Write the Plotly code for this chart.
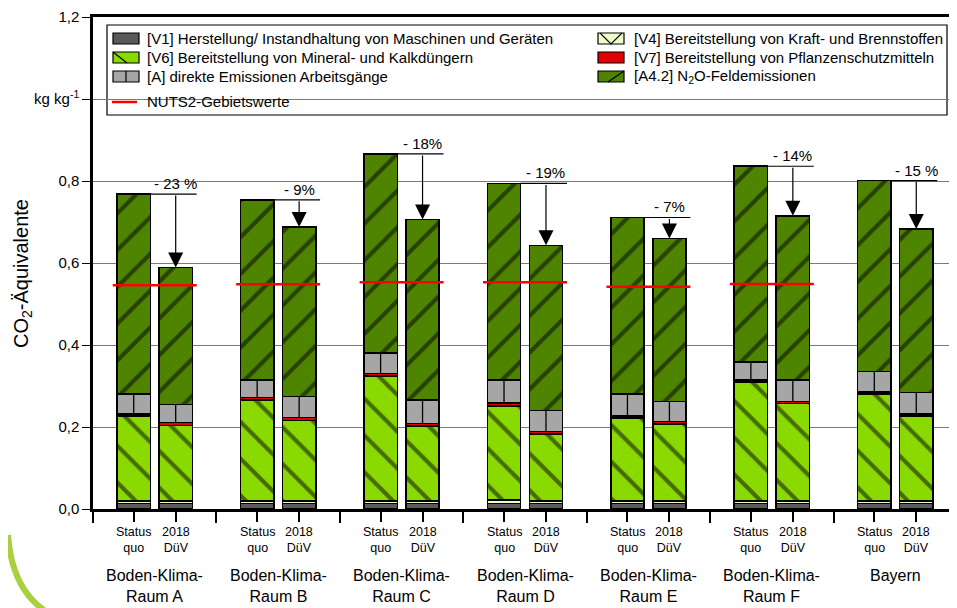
import plotly.graph_objects as go

groups = ["Boden-Klima-<br>Raum A", "Boden-Klima-<br>Raum B", "Boden-Klima-<br>Raum C",
          "Boden-Klima-<br>Raum D", "Boden-Klima-<br>Raum E", "Boden-Klima-<br>Raum F", "Bayern"]
scenarios = ["Status<br>quo", "2018<br>DüV"]

# components per scenario (kg CO2-eq per kg)
v1_sq = [0.013, 0.013, 0.013, 0.013, 0.013, 0.013, 0.013]
v1_dv = [0.013, 0.013, 0.013, 0.013, 0.013, 0.013, 0.013]
v4_sq = [0.006, 0.006, 0.006, 0.009, 0.006, 0.006, 0.006]
v4_dv = [0.006, 0.006, 0.006, 0.006, 0.006, 0.006, 0.006]
v6_sq = [0.208, 0.247, 0.306, 0.229, 0.203, 0.291, 0.261]
v6_dv = [0.185, 0.197, 0.184, 0.164, 0.188, 0.238, 0.208]
v7_sq = [0.005, 0.006, 0.006, 0.007, 0.005, 0.005, 0.005]
v7_dv = [0.007, 0.007, 0.006, 0.006, 0.006, 0.005, 0.005]
a_sq = [0.048, 0.043, 0.050, 0.057, 0.053, 0.044, 0.050]
a_dv = [0.044, 0.051, 0.057, 0.051, 0.049, 0.053, 0.052]
n2o_sq = [0.488, 0.439, 0.485, 0.479, 0.431, 0.477, 0.466]
n2o_dv = [0.334, 0.414, 0.440, 0.403, 0.398, 0.400, 0.399]
nuts2 = [0.546, 0.548, 0.553, 0.553, 0.542, 0.549, None]
reduction_labels = ["- 23 %", "- 9%", "- 18%", "- 19%", "- 7%", "- 14%", "- 15 %"]

y_ticks = [0.0, 0.2, 0.4, 0.6, 0.8, 1.0, 1.2]
y_ticktext = ["0,0", "0,2", "0,4", "0,6", "0,8", "kg kg<sup>-1</sup>", "1,2"]

names = ["[V1] Herstellung/ Instandhaltung von Maschinen und Geräten",
         "[V4] Bereitstellung von Kraft- und Brennstoffen",
         "[V6] Bereitstellung von Mineral- und Kalkdüngern",
         "[V7] Bereitstellung von Pflanzenschutzmitteln",
         "[A] direkte Emissionen Arbeitsgänge",
         "[A4.2] N<sub>2</sub>O-Feldemissionen"]
nuts2_name = "NUTS2-Gebietswerte"
colors = ["#5a5a5a", "#f0fcc8", "#8ad900", "#e00000", "#a6a6a6", "#4e8400"]
patterns = ["", "", "\\", "", "", "/"]

FONT = "Liberation Sans, Arial, sans-serif"
OFF = 0.17
W = 0.27
n = len(groups)
x_sq = [g - OFF for g in range(n)]
x_dv = [g + OFF for g in range(n)]

# page-pixel -> paper helpers (plot area spans 93..957 x 17..509 on the page)
PL, PR, PT, PB = 93.0, 957.0, 17.0, 509.0


def px(xp):
    return (xp - PL) / (PR - PL)


def py(yp):
    return (PB - yp) / (PB - PT)


def inter(a, b):
    return [v for pair in zip(a, b) for v in pair]


xs = inter(x_sq, x_dv)
series = [inter(v1_sq, v1_dv), inter(v4_sq, v4_dv), inter(v6_sq, v6_dv),
          inter(v7_sq, v7_dv), inter(a_sq, a_dv), inter(n2o_sq, n2o_dv)]

fig = go.Figure()
for name, vals, color, shape in zip(names, series, colors, patterns):
    marker = dict(color=color, line=dict(color="black", width=1.5))
    if shape:
        marker["pattern"] = dict(shape=shape, fgcolor="black", size=26, solidity=0.16)
    fig.add_trace(go.Bar(x=xs, y=vals, width=W, name=name, marker=marker, showlegend=False))

# middle divider line of [A] segments
base_a = [a + b + c + d for a, b, c, d in zip(*series[:4])]
top_a = [b + a for b, a in zip(base_a, series[4])]
lx, ly = [], []
for x, b, t in zip(xs, base_a, top_a):
    lx += [x, x, None]
    ly += [b, t, None]
fig.add_trace(go.Scatter(x=lx, y=ly, mode="lines", line=dict(color="black", width=1.3),
                         showlegend=False, hoverinfo="skip"))

# NUTS2 lines
nx, ny = [], []
for g, v in enumerate(nuts2):
    if v is None:
        continue
    nx += [g - 0.34, g + 0.34, None]
    ny += [v, v, None]
fig.add_trace(go.Scatter(x=nx, y=ny, mode="lines", line=dict(color="#ff0000", width=2.5),
                         name=nuts2_name, showlegend=False))

# totals and reduction markers
tot_sq = [sum(v) for v in zip(v1_sq, v4_sq, v6_sq, v7_sq, a_sq, n2o_sq)]
tot_dv = [sum(v) for v in zip(v1_dv, v4_dv, v6_dv, v7_dv, a_dv, n2o_dv)]
hx, hy = [], []
for g in range(n):
    hx += [x_sq[g] + W / 2, x_dv[g] + W / 2 + 0.035, None]
    hy += [tot_sq[g], tot_sq[g], None]
fig.add_trace(go.Scatter(x=hx, y=hy, mode="lines", line=dict(color="black", width=1.2),
                         showlegend=False, hoverinfo="skip"))

annotations = []
for g in range(n):
    annotations.append(dict(x=x_dv[g], y=tot_dv[g], ax=x_dv[g], ay=tot_sq[g], xref="x", yref="y",
                            axref="x", ayref="y", showarrow=True, arrowhead=2, arrowsize=2.5,
                            arrowwidth=1.2, arrowcolor="black", text=""))
    annotations.append(dict(x=x_dv[g], y=tot_sq[g], xref="x", yref="y", text=reduction_labels[g],
                            showarrow=False, yanchor="bottom", xanchor="center",
                            font=dict(size=15, color="black", family=FONT)))
    annotations.append(dict(x=g, y=-0.114, xref="x", yref="paper", text=groups[g], showarrow=False,
                            yanchor="top", xanchor="center", font=dict(size=16, color="black", family=FONT)))
for k, x in enumerate(xs):
    annotations.append(dict(x=x, y=-0.028, xref="x", yref="paper", text=scenarios[k % 2], showarrow=False,
                            yanchor="top", xanchor="center", font=dict(size=12.5, color="black", family=FONT)))
annotations.append(dict(x=px(22), y=py(274), xref="paper", yref="paper", text="CO<sub>2</sub>-Äquivalente",
                        textangle=-90, showarrow=False, xanchor="center", yanchor="middle",
                        font=dict(size=20, color="black", family=FONT)))

shapes = [
    dict(type="rect", xref="paper", yref="paper", x0=px(107), x1=px(947), y0=py(115), y1=py(25),
         line=dict(color="black", width=1.2), fillcolor="white", layer="between"),
    dict(type="path", xref="paper", yref="paper",
         path="M %.4f,%.4f Q %.4f,%.4f %.4f,%.4f" % (px(8), py(535), px(12), py(592), px(50), py(614)),
         line=dict(color="#a8d040", width=6)),
]

# legend (two columns, drawn in the frame)
row_y = [38.5, 57.5, 76.5]
col_sym = [113, 598]
col_txt = [145, 632]
SW, SH = 26, 11
layout_pos = [(0, 0), (1, 0), (0, 1), (1, 1), (0, 2), (1, 2)]
for i, (c, r) in enumerate(layout_pos):
    x0, x1 = col_sym[c], col_sym[c] + SW
    yc = row_y[r]
    y0, y1 = yc - SH / 2, yc + SH / 2
    shapes.append(dict(type="rect", xref="paper", yref="paper", x0=px(x0), x1=px(x1), y0=py(y1), y1=py(y0),
                       fillcolor=colors[i], line=dict(color="black", width=1.2), layer="above"))
    if patterns[i] == "\\":
        shapes.append(dict(type="line", xref="paper", yref="paper", x0=px(x0), y0=py(y0),
                           x1=px(x0 + 14), y1=py(y1), line=dict(color="black", width=1.2), layer="above"))
    elif patterns[i] == "/":
        shapes.append(dict(type="line", xref="paper", yref="paper", x0=px(x0 + 10), y0=py(y1),
                           x1=px(x1), y1=py(y0), line=dict(color="black", width=1.2), layer="above"))
    if i == 1:
        shapes.append(dict(type="path", xref="paper", yref="paper",
                           path="M %.4f,%.4f L %.4f,%.4f L %.4f,%.4f" % (px(x0 + 2), py(y0), px((x0 + x1) / 2), py(y1),
                                                                       px(x1 - 2), py(y0)),
                           line=dict(color="black", width=1.1), layer="above"))
    if i == 4:
        shapes.append(dict(type="line", xref="paper", yref="paper", x0=px((x0 + x1) / 2), y0=py(y0),
                           x1=px((x0 + x1) / 2), y1=py(y1), line=dict(color="black", width=1.2), layer="above"))
    annotations.append(dict(x=px(col_txt[c]), y=py(yc), xref="paper", yref="paper", text=names[i],
                            showarrow=False, xanchor="left", yanchor="middle",
                            font=dict(size=15, color="black", family=FONT)))
shapes.append(dict(type="line", xref="paper", yref="paper", x0=px(112), x1=px(137), y0=py(102), y1=py(102),
                   line=dict(color="#ff0000", width=2.5), layer="above"))
annotations.append(dict(x=px(145), y=py(102), xref="paper", yref="paper", text=nuts2_name,
                        showarrow=False, xanchor="left", yanchor="middle",
                        font=dict(size=15, color="black", family=FONT)))

# page has an 8px body margin: shrink figure so the plot area lands at page 93..957 x 17..509
fig.update_layout(
    width=949, height=600,
    margin=dict(l=85, r=0, t=9, b=99),
    paper_bgcolor="white", plot_bgcolor="white",
    barmode="stack",
    font=dict(family=FONT, size=15, color="black"),
    annotations=annotations,
    shapes=shapes,
    showlegend=False,
    xaxis=dict(range=[-0.5, n - 0.5], tickvals=[g - 0.5 for g in range(n + 1)], ticks="outside",
               ticklen=11, tickwidth=1.5, tickcolor="black", showticklabels=False,
               showline=True, linewidth=2.5, linecolor="black", mirror=True,
               showgrid=False, zeroline=False, automargin=False,
               minor=dict(tickvals=xs, ticks="outside", ticklen=10, tickwidth=1.5,
                          tickcolor="black", showgrid=False)),
    yaxis=dict(range=[0, 1.2], tickvals=y_ticks, ticktext=y_ticktext, ticks="outside",
               ticklen=8, tickwidth=1.2, tickcolor="black", showline=True, linewidth=2.5,
               linecolor="black", showgrid=True, gridcolor="#7a7a7a", gridwidth=1,
               zeroline=False, automargin=False, tickfont=dict(size=15, family=FONT)),
)

fig.write_html("out.html")
